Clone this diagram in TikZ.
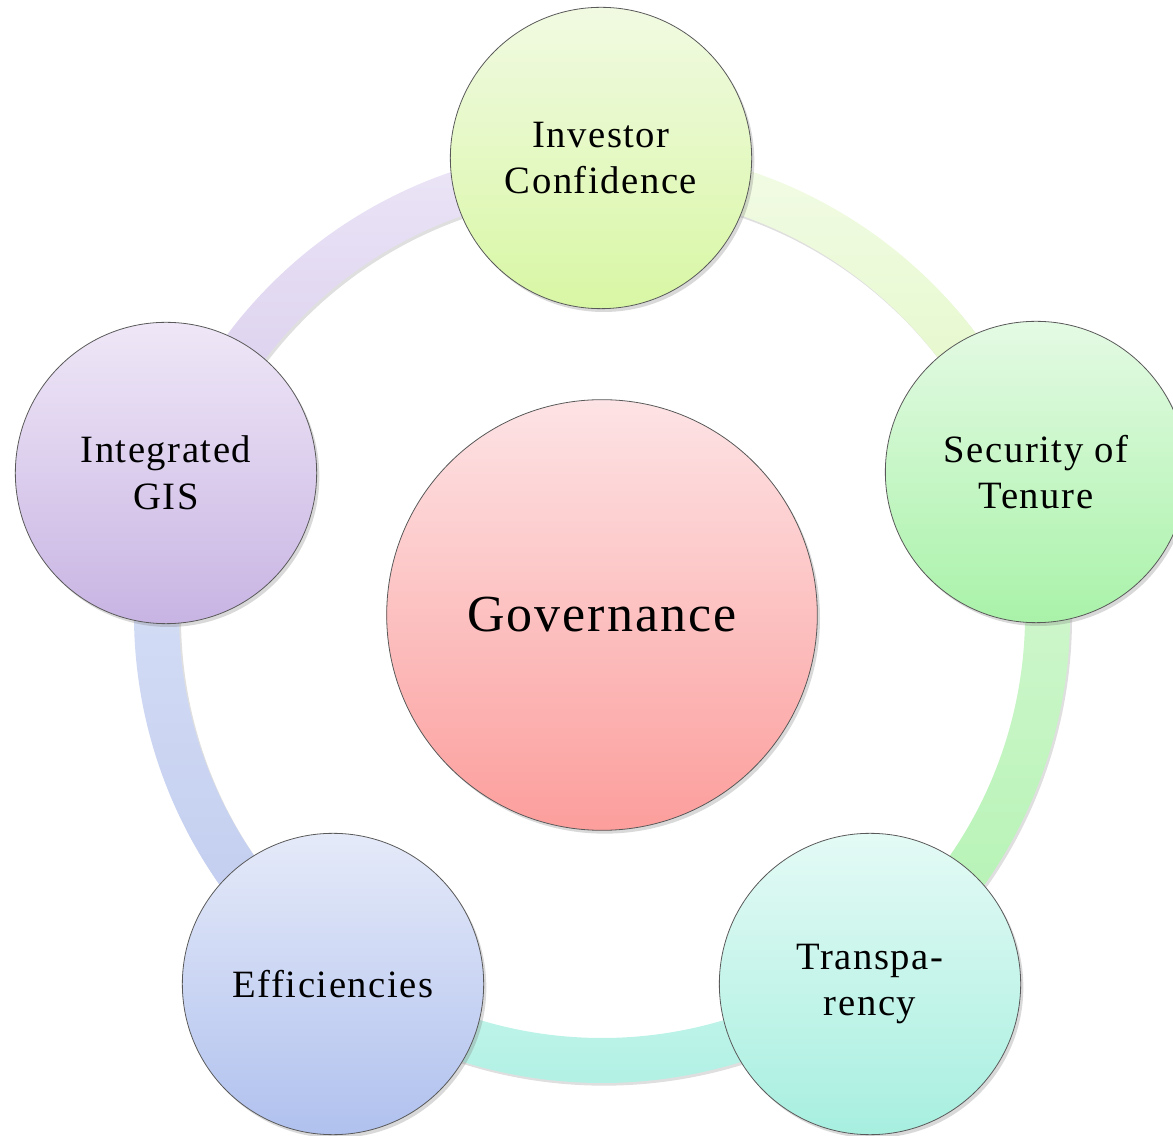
\documentclass[tikz,border=0pt]{standalone}
\usepackage{fontspec}
\setmainfont[LetterSpace=4]{Liberation Serif}
\usetikzlibrary{shadows}

\definecolor{invTop}{HTML}{F1FAE2}
\definecolor{invBot}{HTML}{D8F7A4}
\definecolor{secTop}{HTML}{E4FAE4}
\definecolor{secBot}{HTML}{A9F2A9}
\definecolor{traTop}{HTML}{E4FAF5}
\definecolor{traBot}{HTML}{A7EFE0}
\definecolor{effTop}{HTML}{E5EAF9}
\definecolor{effBot}{HTML}{B0C1EE}
\definecolor{gisTop}{HTML}{EFE7F7}
\definecolor{gisBot}{HTML}{C8B4E3}
\definecolor{govTop}{HTML}{FDE3E5}
\definecolor{govBot}{HTML}{FC9E9C}
% ring piece colours
\definecolor{arcAt}{HTML}{F2FBE6}
\definecolor{arcAb}{HTML}{E1F8C2}
\definecolor{arcBt}{HTML}{D8F8D4}
\definecolor{arcBb}{HTML}{B0F2B0}
\definecolor{arcCt}{HTML}{C8F5EC}
\definecolor{arcCb}{HTML}{ADF0E3}
\definecolor{arcDt}{HTML}{DAE2F6}
\definecolor{arcDb}{HTML}{BECAEF}
\definecolor{arcEt}{HTML}{ECE6F7}
\definecolor{arcEb}{HTML}{D6C9EB}

\tikzset{
  bubble/.style={circle, draw=black!65, line width=0.6pt, minimum size=226pt,
    inner sep=0pt, align=center, font=\fontsize{29}{35}\selectfont,
    drop shadow={opacity=0.3, shadow xshift=2pt, shadow yshift=-2.5pt}},
  band/.style={drop shadow={opacity=0.25, shadow xshift=1.5pt, shadow yshift=-2pt}}
}

\begin{document}
\begin{tikzpicture}[x=0.75pt, y=0.75pt]
\useasboundingbox (0,0) rectangle (1173,1135);
\coordinate (ring) at (602,520);

% ring pieces between the bubbles
\foreach \a/\b/\c in {90/18/arcA, 18/-54/arcB, -54/-126/arcC, -126/-198/arcD, 162/90/arcE}
  \shade[band, top color=\c t, bottom color=\c b]
    ([shift={(\a:468)}]ring) arc[start angle=\a, end angle=\b, radius=468]
    -- ([shift={(\b:423)}]ring) arc[start angle=\b, end angle=\a, radius=423] -- cycle;

\node[bubble, minimum size=323pt, top color=govTop, bottom color=govBot,
  font=\fontsize{39}{45}\selectfont] (gov) at (602,520) {Governance};

\node[bubble, top color=invTop, bottom color=invBot] (inv) at (601,977) {Investor\\Confidence};
\node[bubble, top color=secTop, bottom color=secBot] (sec) at (1036,663) {Security of\\Tenure};
\node[bubble, top color=traTop, bottom color=traBot] (tra) at (870,151) {Transpa-\\rency};
\node[bubble, top color=effTop, bottom color=effBot] (eff) at (333,151) {Efficiencies};
\node[bubble, top color=gisTop, bottom color=gisBot] (gis) at (166,662) {Integrated\\GIS};
\end{tikzpicture}
\end{document}
